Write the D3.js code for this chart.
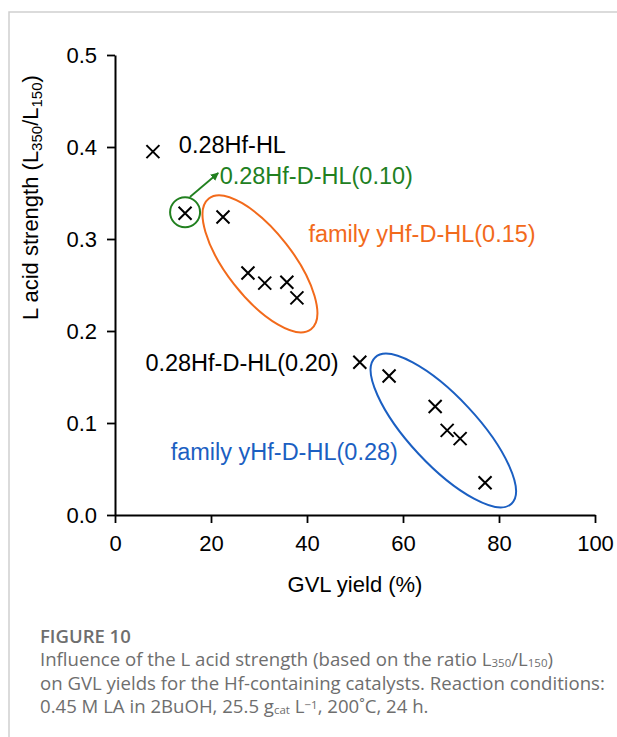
<!DOCTYPE html>
<html>
<head>
<meta charset="utf-8">
<script src="https://cdn.jsdelivr.net/npm/d3@7"></script>
<style>
  body { margin: 0; background: #fff; }
  svg { display: block; }
  .caption { font-family: "Open Sans", sans-serif; fill: #6e6e6e; }
</style>
</head>
<body>
<div id="chart"></div>
<script>
// Data
const xTicks = [0, 20, 40, 60, 80, 100];
const yTicks = [0.0, 0.1, 0.2, 0.3, 0.4, 0.5];

// [GVL yield %, L350/L150]
const pointHL = [[7.9, 0.395]];
const pointD010 = [[14.6, 0.328]];
const familyD015 = [[22.5, 0.324], [27.7, 0.263], [31.2, 0.252], [35.8, 0.253], [37.9, 0.236]];
const pointD020 = [[51.0, 0.166]];
const familyD028 = [[57.1, 0.151], [66.7, 0.118], [69.2, 0.092], [71.9, 0.083], [77.1, 0.035]];

const labels = [
    { text: '0.28Hf-HL', x: 13.3, y: 0.393, color: '#000', anchor: 'start' },
    { text: '0.28Hf-D-HL(0.10)', x: 21.8, y: 0.360, color: '#21801f', anchor: 'start' },
    { text: 'family yHf-D-HL(0.15)', x: 40.3, y: 0.297, color: '#f26a1b', anchor: 'start' },
    { text: '0.28Hf-D-HL(0.20)', x: 46.6, y: 0.156, color: '#000', anchor: 'end' },
    { text: 'family yHf-D-HL(0.28)', x: 11.6, y: 0.060, color: '#1b5fc2', anchor: 'start' }
];

// caption pieces: [text, 'sub' | 'sup' | '']
const captionLines = [
    [['Influence of the L acid strength (based on the ratio L', ''], ['350', 'sub'], ['/L', ''], ['150', 'sub'], [')', '']],
    [['on GVL yields for the Hf-containing catalysts. Reaction conditions:', '']],
    [['0.45 M LA in 2BuOH, 25.5 g', ''], ['cat', 'sub'], [' L', ''], ['−1', 'sup'], [', 200˚C, 24 h.', '']]
];

const width = 617, height = 737;
const margin = { top: 55, right: 22, bottom: 222, left: 115 };
const font = '"Liberation Sans", Arial, sans-serif';

const svg = d3.select('#chart').append('svg')
    .attr('width', width)
    .attr('height', height);

// page frame
svg.append('path')
    .attr('d', `M9,${height} V12 H${width}`)
    .attr('fill', 'none')
    .attr('stroke', '#cfcfcf')
    .attr('stroke-width', 1.5);

const x = d3.scaleLinear().domain([0, 100]).range([margin.left, width - margin.right]);
const y = d3.scaleLinear().domain([0, 0.5]).range([height - margin.bottom, margin.top]);

// axes
const xAxis = svg.append('g')
    .attr('transform', `translate(0,${y(0)})`)
    .call(d3.axisBottom(x).tickValues(xTicks).tickSize(8).tickPadding(12).tickSizeOuter(0));
const yAxis = svg.append('g')
    .attr('transform', `translate(${x(0)},0)`)
    .call(d3.axisLeft(y).tickValues(yTicks).tickFormat(d3.format('.1f')).tickSize(8).tickPadding(10).tickSizeOuter(0));

[xAxis, yAxis].forEach(g => {
    g.select('.domain').attr('stroke', '#000').attr('stroke-width', 2);
    g.selectAll('.tick line').attr('stroke', '#000').attr('stroke-width', 1.8);
    g.selectAll('.tick text').attr('font-family', font).attr('font-size', 22).attr('fill', '#000');
});

// axis titles
svg.append('text')
    .attr('x', (x(0) + x(100)) / 2)
    .attr('y', 592)
    .attr('text-anchor', 'middle')
    .attr('font-family', font)
    .attr('font-size', 22)
    .text('GVL yield (%)');

const yTitle = svg.append('text')
    .attr('transform', `translate(38,${y(0.345)}) rotate(-90)`)
    .attr('text-anchor', 'middle')
    .attr('font-family', font)
    .attr('font-size', 22);
yTitle.append('tspan').text('L acid strength (L');
yTitle.append('tspan').attr('dy', 4).attr('font-size', 15).text('350');
yTitle.append('tspan').attr('dy', -4).text('/L');
yTitle.append('tspan').attr('dy', 4).attr('font-size', 15).text('150');
yTitle.append('tspan').attr('dy', -4).text(')');

// group outlines
const ellipses = [
    { cx: 30.2, cy: 0.273, rx: 83, ry: 33, angle: 52, color: '#f26a1b' },
    { cx: 68.4, cy: 0.0918, rx: 100, ry: 34, angle: 47, color: '#1b5fc2' }
];
svg.selectAll('ellipse.group')
    .data(ellipses)
    .enter()
    .append('ellipse')
    .attr('class', 'group')
    .attr('transform', d => `translate(${x(d.cx)},${y(d.cy)}) rotate(${d.angle})`)
    .attr('rx', d => d.rx)
    .attr('ry', d => d.ry)
    .attr('fill', 'none')
    .attr('stroke', d => d.color)
    .attr('stroke-width', 2);

svg.selectAll('circle.hl')
    .data(pointD010)
    .enter()
    .append('circle')
    .attr('cx', d => x(d[0]))
    .attr('cy', d => y(d[1]) - 1)
    .attr('r', 15)
    .attr('fill', 'none')
    .attr('stroke', '#21801f')
    .attr('stroke-width', 2);

// arrow to the 0.10 label
svg.append('defs').append('marker')
    .attr('id', 'arrow')
    .attr('viewBox', '0 0 10 10')
    .attr('refX', 9).attr('refY', 5)
    .attr('markerWidth', 4.5).attr('markerHeight', 4.5)
    .attr('markerUnits', 'strokeWidth')
    .attr('orient', 'auto')
    .append('path')
    .attr('d', 'M0,0 L10,5 L0,10 z')
    .attr('fill', '#21801f');

svg.append('line')
    .attr('x1', x(15.6)).attr('y1', y(0.3457))
    .attr('x2', x(21.5)).attr('y2', y(0.3717))
    .attr('stroke', '#21801f')
    .attr('stroke-width', 1.8)
    .attr('marker-end', 'url(#arrow)');

// cross markers
const allPoints = [].concat(pointHL, pointD010, familyD015, pointD020, familyD028);
const s = 6.5;
svg.selectAll('path.pt')
    .data(allPoints)
    .enter()
    .append('path')
    .attr('class', 'pt')
    .attr('d', d => {
        const px = x(d[0]), py = y(d[1]);
        return `M${px - s},${py - s}L${px + s},${py + s}M${px - s},${py + s}L${px + s},${py - s}`;
    })
    .attr('stroke', '#000')
    .attr('stroke-width', 2);

// labels
svg.selectAll('text.lab')
    .data(labels)
    .enter()
    .append('text')
    .attr('class', 'lab')
    .attr('x', d => x(d.x))
    .attr('y', d => y(d.y))
    .attr('text-anchor', d => d.anchor)
    .attr('font-family', font)
    .attr('font-size', 23.5)
    .attr('fill', d => d.color)
    .text(d => d.text);

// caption
svg.append('text')
    .attr('class', 'caption')
    .attr('x', 40).attr('y', 643)
    .attr('font-size', 18.5)
    .attr('font-weight', 600)
    .text('FIGURE 10');

captionLines.forEach((parts, i) => {
    const t = svg.append('text')
        .attr('class', 'caption')
        .attr('x', 40)
        .attr('y', 666 + i * 23.5)
        .attr('font-size', 18.6);
    let shift = 0;
    parts.forEach(([str, kind]) => {
        const target = kind === 'sub' ? 1.2 : kind === 'sup' ? -4.5 : 0;
        t.append('tspan')
            .attr('dy', target - shift)
            .attr('font-size', kind ? 11.5 : null)
            .text(str);
        shift = target;
    });
});
</script>
</body>
</html>
